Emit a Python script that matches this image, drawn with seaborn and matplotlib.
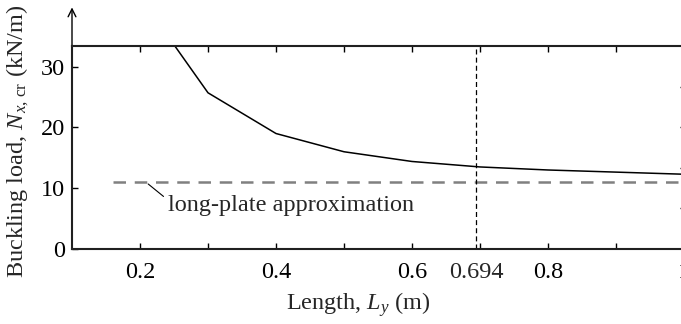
"""
plot.py

Buckling load against plate length, with long-plate approximation.
"""

import matplotlib

matplotlib.use("Agg")

import matplotlib.pyplot as plt
import pandas as pd
import seaborn as sns

# ==========================================================
# Data
# ==========================================================

length_m = [0.2, 0.3, 0.4, 0.5, 0.6, 0.7, 0.8, 0.9, 1.0]
buckling_load = [41.5, 25.7, 19.0, 16.0, 14.4, 13.5, 13.0, 12.65, 12.3]

long_plate_load = 11.1
long_plate_from = 0.16
critical_length = 0.694

x_major = [0.2, 0.3, 0.4, 0.5, 0.6, 0.7, 0.8, 0.9, 1.0]
x_labels = ["0.2", "", "0.4", "", "0.6", "", "0.8", "", "1"]
y_ticks = [0, 10, 20, 30]

df = pd.DataFrame({"length": length_m, "load": buckling_load})

# ==========================================================
# Style
# ==========================================================

sns.set_theme(style="ticks")
plt.rcParams["font.family"] = ["Liberation Serif", "DejaVu Serif"]
plt.rcParams["mathtext.fontset"] = "custom"
plt.rcParams["mathtext.rm"] = "Liberation Serif"
plt.rcParams["mathtext.it"] = "Liberation Serif:italic"

FS = 17.5

fig = plt.figure(figsize=(6.81, 3.24), dpi=100)
ax = fig.add_axes([72 / 681, 75 / 324, 612 / 681, 203 / 324])

sns.lineplot(data=df, x="length", y="load", color="black", linewidth=1.1, ax=ax)

ax.hlines(
    long_plate_load,
    long_plate_from,
    1.0,
    colors="#808080",
    linewidth=1.8,
    linestyles=(0, (5, 3.5)),
)

ax.axvline(critical_length, color="black", linewidth=0.9, linestyle=(0, (4, 2.5)))

ax.annotate(
    "long-plate approximation",
    xy=(0.212, 10.7),
    xytext=(0.241, 7.2),
    fontsize=FS,
    ha="left",
    va="center",
    arrowprops=dict(arrowstyle="-", color="black", lw=0.8,
                    shrinkA=1, shrinkB=0, relpos=(0, 0.75)),
)

ax.set_xlim(0.1, 1.0)
ax.set_ylim(0, 33.4)

ax.set_xticks(x_major, x_labels)
ax.set_xticks([critical_length], ["0.694"], minor=True)
ax.set_yticks(y_ticks)

ax.tick_params(axis="both", which="major", direction="in", length=4,
               width=1.0, labelsize=FS, colors="black")
ax.tick_params(axis="x", which="major", top=True, pad=9)
ax.tick_params(axis="x", which="minor", length=0, labelsize=FS, pad=9)
ax.tick_params(axis="y", which="major", pad=5)

for side in ["top", "bottom", "left", "right"]:
    ax.spines[side].set_color("black")
    ax.spines[side].set_linewidth(1.5)

# right-hand axis: ticks only
ax2 = ax.twinx()
ax2.set_ylim(0, 5)
ax2.set_yticks([1, 2, 3, 4], ["", "", "", ""])
ax2.tick_params(axis="y", direction="in", length=3, width=1.0, colors="black")
ax2.spines["right"].set_linewidth(1.5)

# arrow on the left axis
ax.annotate(
    "",
    xy=(0, 1.19),
    xytext=(0, 1.0),
    xycoords="axes fraction",
    textcoords="axes fraction",
    arrowprops=dict(arrowstyle="->", color="black", lw=1.0,
                    shrinkA=0, shrinkB=0, mutation_scale=14),
    annotation_clip=False,
)

ax.set_xlabel(r"Length, $L_y$ (m)", fontsize=FS)
ax.set_ylabel(r"Buckling load, $N_{x,\,\mathrm{cr}}$ (kN/m)", fontsize=FS)
ax.xaxis.set_label_coords(0.467, -0.275)
ax.xaxis.label.set_va("center")
ax.yaxis.set_label_coords(-0.088, 0.532)
ax.yaxis.label.set_va("center")

fig.savefig("out.png", dpi=100)
plt.close(fig)
